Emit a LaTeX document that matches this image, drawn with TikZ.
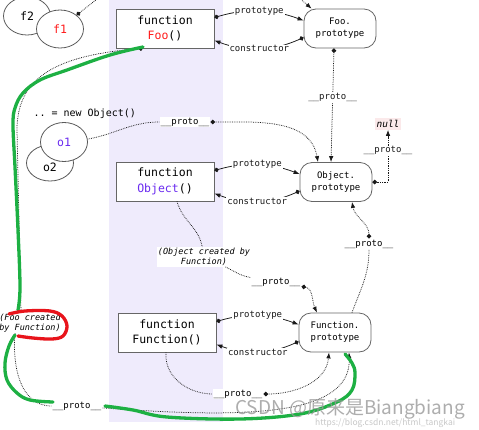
\documentclass[tikz,border=0pt]{standalone}
\usepackage{fontspec}
\setmonofont{DejaVu Sans Mono}
\newfontfamily\cjk{Noto Sans CJK SC}
\usepackage{tikz}
\usetikzlibrary{arrows.meta,calc,positioning,shapes.geometric}
\definecolor{bandLilac}{HTML}{EFEBFC}
\definecolor{fooRed}{HTML}{FF1A1A}
\definecolor{objPurple}{HTML}{6A2BF0}
\definecolor{nullPink}{HTML}{FBE9EA}
\definecolor{penGreen}{HTML}{1DB043}
\definecolor{penRed}{HTML}{E8141B}
\newcommand{\protolbl}{\_\_proto\_\_}

\begin{document}
\begin{tikzpicture}[x=1pt,y=-1pt,font=\ttfamily,
    fnbox/.style={draw=black!60,line width=.8pt,fill=white,minimum width=98pt,minimum height=39pt,
      align=center,inner sep=0pt,font=\ttfamily\fontsize{11.5}{15.5}\selectfont},
    protobox/.style={draw=black!60,line width=.8pt,fill=white,rounded corners=12pt,minimum width=72pt,
      minimum height=39pt,align=center,inner sep=0pt,font=\ttfamily\fontsize{9}{12}\selectfont},
    blob/.style={ellipse,draw=black!65,line width=.8pt,fill=white,minimum width=47pt,minimum height=38pt,
      inner sep=0pt,font=\ttfamily\fontsize{11.5}{12}\selectfont},
    lbl/.style={fill=white,inner sep=1pt,font=\ttfamily\fontsize{9}{10}\selectfont},
    note/.style={fill=white,inner sep=1pt,align=center,font=\ttfamily\itshape\fontsize{8.5}{10}\selectfont},
    rel/.style={black!90,line width=.75pt,{Circle[length=4.5pt]}-{Latex[length=6pt,width=4.5pt]}},
    link/.style={rel,densely dotted},
    dotonly/.style={{Circle[length=4.5pt]}-},
    tiponly/.style={-{Latex[length=6pt,width=4.5pt]}},
    pen/.style={line width=3.3pt,line cap=round,line join=round}]
  \useasboundingbox (0,0) rectangle (479,429);
  \fill[bandLilac] (109,0) rectangle (223,422);

  % instances
  \node[blob] (f2) at (27,16) {f2};
  \node[blob] (f1) at (60,29) {\textcolor{fooRed}{f1}};
  \node[anchor=west,font=\ttfamily\fontsize{10}{12}\selectfont] (newobj) at (30,114) {.. = new Object()};
  \node[blob,minimum height=36pt] (o2) at (50,163) {\raisebox{-8pt}[0pt][0pt]{o2}};
  \node[blob,minimum height=39pt] (o1) at (64,142) {\textcolor{objPurple}{o1}};

  % constructors and prototypes
  \node[fnbox] (Foo) at (165,28.5) {function\\\textcolor{fooRed}{Foo}()};
  \node[protobox] (FooP) at (340,28.5) {Foo.\\prototype};
  \node[fnbox] (Object) at (165,181.5) {function\\\textcolor{objPurple}{Object}()};
  \node[protobox] (ObjP) at (336,182) {Object.\\prototype};
  \node[fnbox] (Function) at (167,332.5) {function\\Function()};
  \node[protobox] (FuncP) at (335,332.5) {Function.\\prototype};
  \node[fill=nullPink,inner sep=2pt,font=\ttfamily\itshape\fontsize{9.5}{10}\selectfont] (nullv) at (388,124) {null};

  \foreach \fn/\pr in {Foo/FooP,Object/ObjP,Function/FuncP}{
    \draw[rel] ([yshift=11pt]\fn.east) to[bend left=18] node[lbl]{prototype} ([yshift=8pt]\pr.west);
    \draw[rel] ([yshift=-9pt]\pr.west) to[bend left=22] node[lbl]{constructor} ([yshift=-12pt]\fn.east);
  }

  % __proto__ chains
  \node[lbl] (pr2) at (185,122) {\protolbl};
  \node[note] (objnote) at (204,257) {(Object created by\\Function)};
  \node[lbl] (pr5) at (276,282) {\protolbl};
  \node[lbl] (pr6) at (369,244) {\protolbl};
  \node[lbl] (pr7) at (238,394) {\protolbl};
  \node[note] (foonote) at (30,323) {(Foo created\\by Function)};
  \node[lbl] (pr8) at (77,406) {\protolbl};
  \coordinate (fooUp) at (101,-4);
  \coordinate (fooDown) at (297,-4);
  \coordinate (fooBend) at (17,130);

  \draw[link,dotonly] (f1.40) -- (fooUp);
  \draw[link,tiponly] (fooDown) -- (FooP.145);
  \draw[link] ([xshift=-6pt]FooP.south) -- node[lbl,pos=0.43]{\protolbl} ([xshift=-5pt]ObjP.north);
  \draw[link] (o1.7) to[out=10,in=180] (pr2) to[out=0,in=100] ([xshift=-18pt]ObjP.north);
  \draw[link] (ObjP.east) -| node[lbl,pos=0.8]{\protolbl} (nullv.south);
  \draw[link] ([xshift=12pt]Object.south) to[out=-75,in=100] (objnote)
    to[out=-25,in=170] (pr5) to[out=-10,in=115] ([xshift=-18pt]FuncP.north);
  \draw[link] ([xshift=17pt]FuncP.north) to[out=70,in=-90] (pr6) to[out=90,in=-80] ([xshift=16pt]ObjP.south);
  \draw[link] ([xshift=-1pt]Function.south) to[out=-95,in=180] (pr7) to[out=0,in=-95] ([xshift=-6pt]FuncP.south);
  \draw[link,dotonly] ([xshift=-22pt]Foo.south) .. controls (60,55) and (17,75) .. (fooBend)
    -- ([xshift=-9pt]foonote.north);
  \draw[link,tiponly] ([xshift=-15pt]foonote.south) to[out=-95,in=180] (pr8)
    .. controls (240,418) and (352,418) .. ([xshift=14pt]FuncP.south);

  % pen marks
  \draw[pen,penGreen] plot[smooth,tension=0.6] coordinates {(143,47) (110,55) (67,70) (40,80) (23,93)
    (15,108) (13,125) (15,167) (18,230) (20,287) (18,310)};
  \draw[pen,penGreen] plot[smooth,tension=0.6] coordinates {(15,335) (9,346) (5,363) (7,380) (17,393)
    (30,400) (53,402)};
  \draw[pen,penGreen] plot[smooth,tension=0.6] coordinates {(105,406) (133,410) (167,417) (240,419)
    (300,414) (337,402) (352,390) (355,373) (352,363) (345,354)};
  \draw[pen,penRed] plot[smooth,tension=0.6] coordinates {(9,314) (25,311) (50,311) (62,316) (67,326)
    (63,336) (52,339) (33,338) (18,336)};

  % watermark
  \node[anchor=west,inner sep=0pt,text=black!40,opacity=.8,font=\cjk\fontsize{19}{20}\selectfont] (mark) at (235,409) {CSDN @原来是Biangbiang};
  \node[anchor=west,inner sep=0pt,text=black!22,font=\cjk\fontsize{8.5}{9}\selectfont] (url) at (315,423) {https://blog.csdn.net/html\_tangkai};
\end{tikzpicture}
\end{document}
